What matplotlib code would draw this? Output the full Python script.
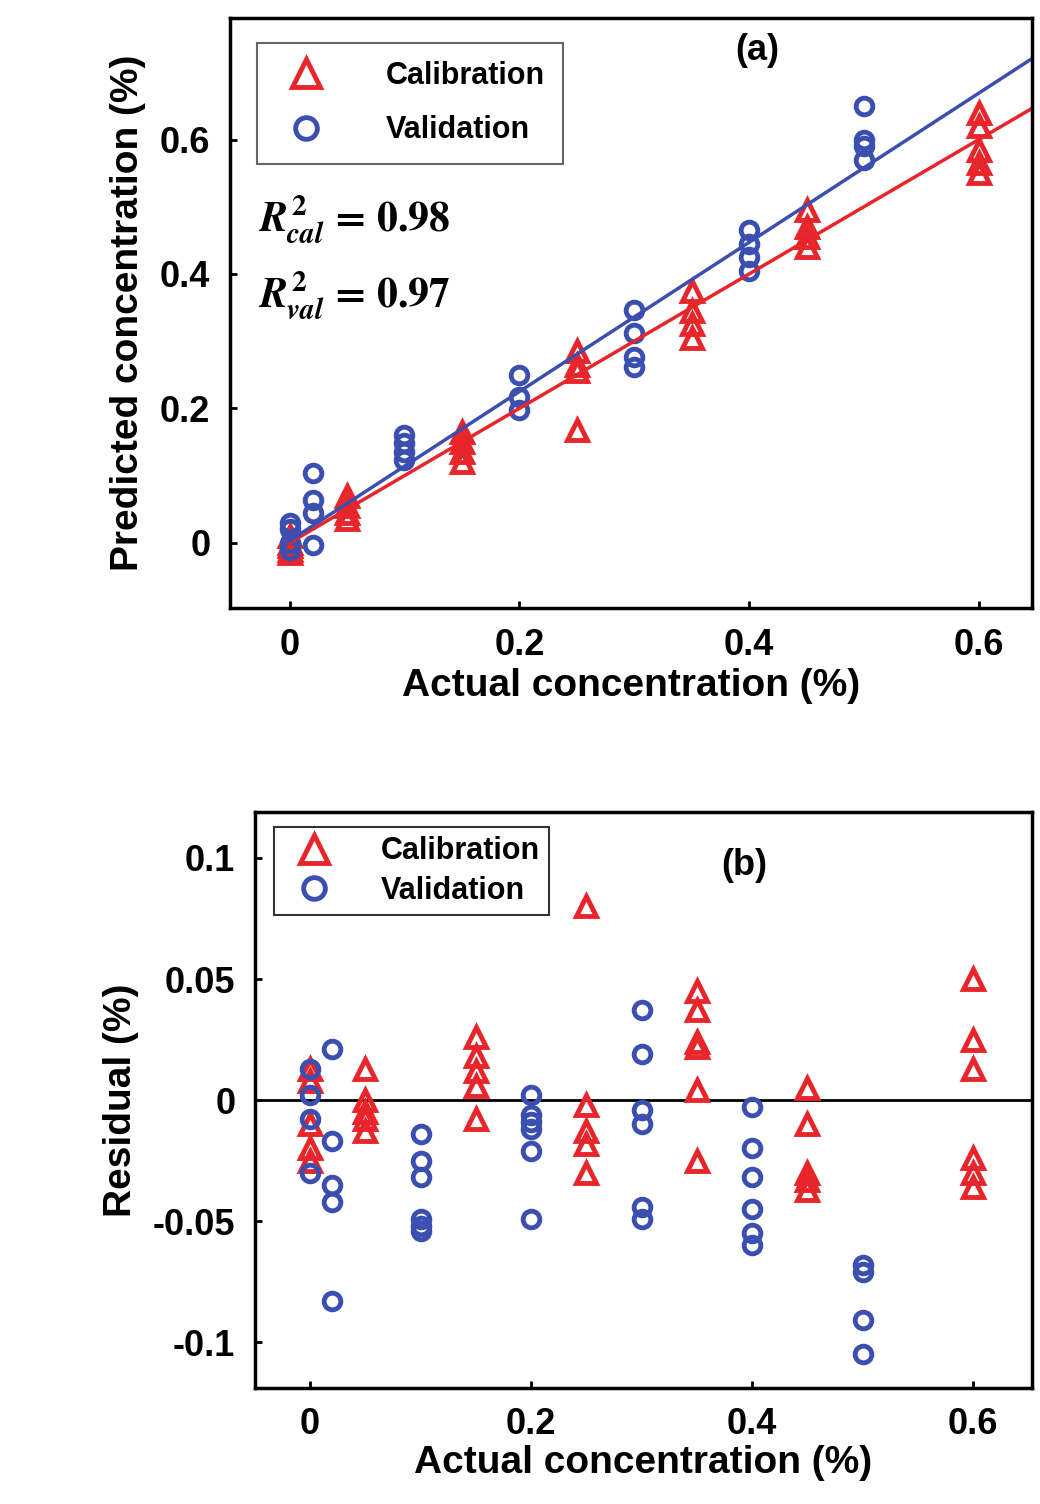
import matplotlib
matplotlib.use('Agg')
import matplotlib.pyplot as plt
import numpy as np

RED = '#e8252a'
BLUE = '#3a4fb0'

# (a) predicted vs actual
cal_x = [0] * 5 + [0.05] * 4 + [0.15] * 4 + [0.25] * 4 + [0.35] * 4 + [0.45] * 4 + [0.6] * 5
cal_pred = [0.01, 0.0, -0.005, -0.01, -0.015,
            0.07, 0.055, 0.045, 0.035,
            0.165, 0.15, 0.135, 0.12,
            0.285, 0.265, 0.255, 0.168,
            0.375, 0.345, 0.325, 0.305,
            0.495, 0.47, 0.455, 0.44,
            0.64, 0.62, 0.585, 0.565, 0.55]
val_x = [0] * 4 + [0.02] * 4 + [0.1] * 4 + [0.2] * 3 + [0.3] * 4 + [0.4] * 4 + [0.5] * 4
val_pred = [0.03, 0.02, 0.0, -0.01,
            0.104, 0.064, 0.045, -0.003,
            0.16, 0.148, 0.135, 0.123,
            0.25, 0.217, 0.198,
            0.347, 0.312, 0.277, 0.262,
            0.465, 0.445, 0.425, 0.405,
            0.65, 0.6, 0.59, 0.57]
cal_fit = (1.0, 0.0)      # slope, intercept
val_fit = (1.11, 0.003)
fit_range = [0.0, 0.65]

# (b) residuals
res_cal_x = [0] * 5 + [0.05] * 5 + [0.15] * 5 + [0.25] * 5 + [0.35] * 6 + [0.45] * 5 + [0.6] * 6
res_cal = [0.013, 0.008, -0.01, -0.02, -0.025,
           0.013, 0.0, -0.005, -0.008, -0.013,
           0.026, 0.018, 0.012, 0.006, -0.008,
           0.08, -0.002, -0.013, -0.018, -0.03,
           0.045, 0.037, 0.024, 0.022, 0.004, -0.025,
           0.005, -0.01, -0.03, -0.033, -0.037,
           0.05, 0.025, 0.013, -0.024, -0.03, -0.036]
res_val_x = [0] * 4 + [0.02] * 5 + [0.1] * 6 + [0.2] * 6 + [0.3] * 6 + [0.4] * 6 + [0.5] * 4
res_val = [0.013, 0.002, -0.008, -0.03,
           0.021, -0.017, -0.035, -0.042, -0.083,
           -0.014, -0.025, -0.032, -0.049, -0.052, -0.054,
           0.002, -0.006, -0.009, -0.012, -0.021, -0.049,
           0.037, 0.019, -0.004, -0.01, -0.044, -0.049,
           -0.003, -0.02, -0.032, -0.045, -0.055, -0.06,
           -0.068, -0.071, -0.091, -0.105]

plt.rcParams['font.family'] = ['Liberation Sans', 'DejaVu Sans']
plt.rcParams['font.weight'] = 'bold'
plt.rcParams['mathtext.fontset'] = 'stix'

fig = plt.figure(figsize=(10.4, 15.04), dpi=100)

cal_style = dict(marker='^', ls='none', ms=15, mfc='none', mec=RED, mew=3.5)
val_style = dict(marker='o', ls='none', ms=12, mfc='none', mec=BLUE, mew=3.5)


def style_axes(ax):
    for s in ax.spines.values():
        s.set_linewidth(2.5)
    ax.tick_params(labelsize=26, width=2, length=5, direction='in', pad=14)
    for lab in ax.get_xticklabels() + ax.get_yticklabels():
        lab.set_fontweight('bold')


ax1 = fig.add_axes([0.221, 0.5957, 0.771, 0.392])
ax1.plot(cal_x, cal_pred, label='Calibration', **cal_style)
ax1.plot(val_x, val_pred, label='Validation', **val_style)
xs = np.array(fit_range)
ax1.plot(xs, cal_fit[0] * xs + cal_fit[1], color=RED, lw=2.5)
ax1.plot(xs, val_fit[0] * xs + val_fit[1], color=BLUE, lw=2.5)
ax1.set_xlim(-0.052, 0.646)
ax1.set_ylim(-0.097, 0.78)
ax1.set_xticks([0, 0.2, 0.4, 0.6], ['0', '0.2', '0.4', '0.6'])
ax1.set_yticks([0, 0.2, 0.4, 0.6], ['0', '0.2', '0.4', '0.6'])
ax1.set_xlabel('Actual concentration (%)', fontsize=28, fontweight='bold', labelpad=4)
ax1.set_ylabel('Predicted concentration (%)', fontsize=28, fontweight='bold', labelpad=10)
ax1.text(0.63, 0.93, '(a)', transform=ax1.transAxes, fontsize=26, fontweight='bold')
ax1.text(0.035, 0.64, r'$\mathit{R}^2_{cal}$ = 0.98', transform=ax1.transAxes,
         fontsize=30, family='STIXGeneral', fontweight='bold')
ax1.text(0.035, 0.51, r'$\mathit{R}^2_{val}$ = 0.97', transform=ax1.transAxes,
         fontsize=30, family='STIXGeneral', fontweight='bold')
leg1 = ax1.legend(loc='upper left', bbox_to_anchor=(0.015, 0.985), fontsize=22,
                  fancybox=False, edgecolor='#666666', framealpha=1, markerscale=1.3,
                  handletextpad=1.6, borderpad=0.6, labelspacing=0.8)
leg1.get_frame().set_linewidth(1.5)
style_axes(ax1)

ax2 = fig.add_axes([0.245, 0.0771, 0.747, 0.383])
ax2.axhline(0, color='black', lw=2)
ax2.plot(res_cal_x, res_cal, label='Calibration', **cal_style)
ax2.plot(res_val_x, res_val, label='Validation', **val_style)
ax2.set_xlim(-0.05, 0.653)
ax2.set_ylim(-0.119, 0.119)
ax2.set_xticks([0, 0.2, 0.4, 0.6], ['0', '0.2', '0.4', '0.6'])
ax2.set_yticks([-0.1, -0.05, 0, 0.05, 0.1], ['-0.1', '-0.05', '0', '0.05', '0.1'])
ax2.set_xlabel('Actual concentration (%)', fontsize=28, fontweight='bold', labelpad=2)
ax2.set_ylabel('Residual (%)', fontsize=28, fontweight='bold', labelpad=10)
ax2.text(0.6, 0.89, '(b)', transform=ax2.transAxes, fontsize=26, fontweight='bold')
leg2 = ax2.legend(loc='upper left', bbox_to_anchor=(0.005, 1.0), fontsize=22,
                  fancybox=False, edgecolor='#333333', framealpha=1, markerscale=1.3,
                  handletextpad=1.2, borderpad=0.3, labelspacing=0.3)
leg2.get_frame().set_linewidth(1.5)
style_axes(ax2)

fig.savefig('out.png', dpi=100)
